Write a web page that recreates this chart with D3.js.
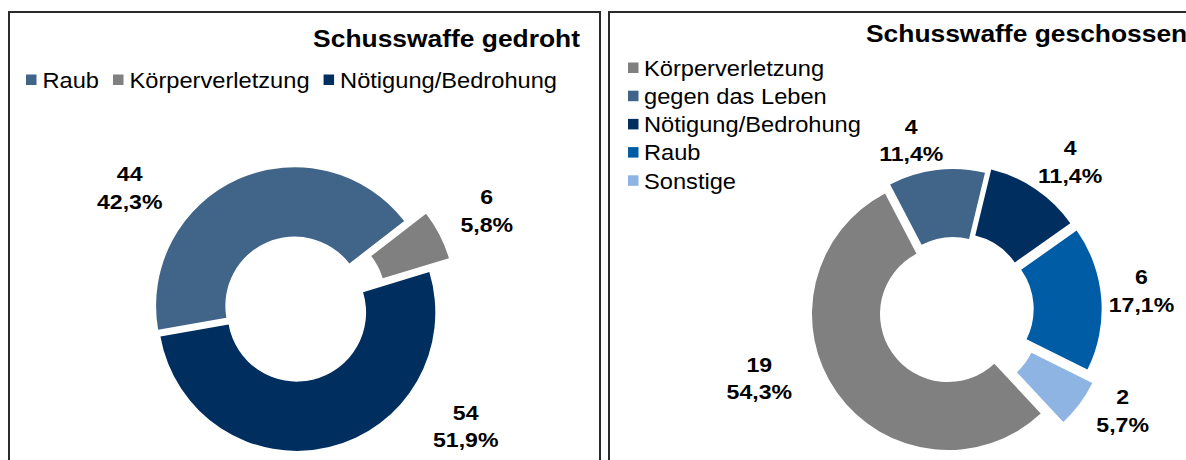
<!DOCTYPE html>
<html>
<head>
<meta charset="utf-8">
<script src="https://cdn.jsdelivr.net/npm/d3@7"></script>
<style>
  body { margin: 0; background: #fff; }
  svg text { font-family: "Liberation Sans", Arial, sans-serif; fill: #000; }
</style>
</head>
<body>
<svg id="chart" width="1186" height="460"></svg>
<script>
// data: Schusswaffe gedroht
var leftTitle = "Schusswaffe gedroht";
var leftCategories = ["Raub", "Körperverletzung", "Nötigung/Bedrohung"];
var leftValues = [44, 6, 54];

// data: Schusswaffe geschossen
var rightTitle = "Schusswaffe geschossen";
var rightCategories = ["Körperverletzung", "gegen das Leben", "Nötigung/Bedrohung", "Raub", "Sonstige"];
var rightValues = [19, 4, 4, 6, 2];

var colors = {
  "Raub": "#416489",
  "Körperverletzung": "#808080",
  "Nötigung/Bedrohung": "#002f5f",
  "gegen das Leben": "#416489",
  "Sonstige": "#8db4e2"
};
var rightColors = {"Raub": "#005ca4"};

// layout conf.
var stretch = 1.1,
    legendFont = 21.5,
    labelFont = 21,
    lineGap = 27.5;

var panels = [
  {x: 9, y: 12, w: 591, title: leftTitle, titleX: 580, titleY: 47, anchor: "end",
   cats: leftCategories, vals: leftValues, pal: {},
   cx: 296, cy: 309, R: 138.5, start: 260,
   explode: [3.5, 23, 3.5], nudge: [-30, 0, -42], pad: [25, 20], legend: "row"},
  {x: 609, y: 12, w: 600, title: rightTitle, titleX: 866, titleY: 42, anchor: "start",
   cats: rightCategories, vals: rightValues, pal: rightColors,
   cx: 953.7, cy: 310, R: 136, start: 137,
   explode: [7, 5, 10, 12, 21], nudge: [16, -7, 4, -1.5, -6], pad: [25, 6], legend: "column"}
];

var deLocale = d3.formatLocale({decimal: ",", thousands: ".", grouping: [3], currency: ["", " €"]});
var pct = deLocale.format(".1%");
var rad = Math.PI / 180;

var svg = d3.select("#chart");

panels.forEach(function(p) {
  var g = svg.append("g").classed("panel", true);
  var fillOf = function(c) { return p.pal[c] || colors[c]; };

  g.append("rect")
    .attr("x", p.x).attr("y", p.y)
    .attr("width", p.w).attr("height", 470)
    .attr("fill", "none")
    .attr("stroke", "#2b2b2b")
    .attr("stroke-width", 2);

  g.append("text")
    .attr("transform", "translate(" + [p.titleX, p.titleY] + ") scale(" + stretch + ",1)")
    .attr("text-anchor", p.anchor)
    .style("font-size", "24px")
    .style("font-weight", "bold")
    .text(p.title);

  // legend
  var lg = g.append("g").classed("legend", true);
  if (p.legend === "row") {
    var lx = 26, ly = 80;
    p.cats.forEach(function(c) {
      lg.append("rect").attr("x", lx).attr("y", ly - 5.5)
        .attr("width", 10.5).attr("height", 10.5).attr("fill", fillOf(c));
      var t = lg.append("text")
        .attr("transform", "translate(" + [lx + 16.5, ly + 7.7] + ") scale(" + stretch + ",1)")
        .style("font-size", legendFont + "px")
        .text(c);
      lx += 16.5 + t.node().getComputedTextLength() * stretch + 14;
    });
  } else {
    p.cats.forEach(function(c, i) {
      var ly = 68 + i * 28.2;
      lg.append("rect").attr("x", 628).attr("y", ly - 5.5)
        .attr("width", 10.5).attr("height", 10.5).attr("fill", fillOf(c));
      lg.append("text")
        .attr("transform", "translate(" + [644, ly + 7.7] + ") scale(" + stretch + ",1)")
        .style("font-size", legendFont + "px")
        .text(c);
    });
  }

  // donut
  var total = d3.sum(p.vals);
  var pie = d3.pie().sort(null).value(function(d) { return d; })
    .startAngle(p.start * rad).endAngle(p.start * rad + 2 * Math.PI);
  var arcs = pie(p.vals);
  var arc = d3.arc().innerRadius(p.R * 0.5).outerRadius(p.R);

  var donut = g.append("g").attr("transform", "translate(" + [p.cx, p.cy] + ")");

  donut.selectAll(".slice")
    .data(arcs)
    .enter()
    .append("path")
    .classed("slice", true)
    .attr("transform", function(d, i) {
      var m = (d.startAngle + d.endAngle) / 2, e = p.explode[i];
      return "translate(" + [e * Math.sin(m), -e * Math.cos(m)] + ")";
    })
    .attr("d", arc)
    .attr("fill", function(d, i) { return fillOf(p.cats[i]); });

  // data labels
  var labels = donut.selectAll(".label")
    .data(arcs)
    .enter()
    .append("g")
    .classed("label", true);

  labels.append("text")
    .attr("text-anchor", "middle")
    .attr("transform", "translate(0," + (-lineGap / 2 + 7.5) + ") scale(" + stretch + ",1)")
    .style("font-size", labelFont + "px")
    .style("font-weight", "bold")
    .text(function(d) { return d.value; });

  labels.append("text")
    .attr("text-anchor", "middle")
    .attr("transform", "translate(0," + (lineGap / 2 + 7.5) + ") scale(" + stretch + ",1)")
    .style("font-size", labelFont + "px")
    .style("font-weight", "bold")
    .text(function(d) { return pct(d.value / total); });

  labels.attr("transform", function(d, i) {
    var a = (d.startAngle + d.endAngle) / 2 + p.nudge[i] * rad;
    var w = d3.max(d3.select(this).selectAll("text").nodes(), function(n) {
      return n.getComputedTextLength() * stretch;
    });
    var h = lineGap + 15;
    var big = (d.value / total) > 0.4;
    var extent = Math.abs(Math.sin(a)) * w / 2 + Math.abs(Math.cos(a)) * h / 2;
    var dist = p.R + p.explode[i] + (big ? p.pad[0] : p.pad[1]) + extent;
    return "translate(" + [dist * Math.sin(a), -dist * Math.cos(a)] + ")";
  });
});
</script>
</body>
</html>
